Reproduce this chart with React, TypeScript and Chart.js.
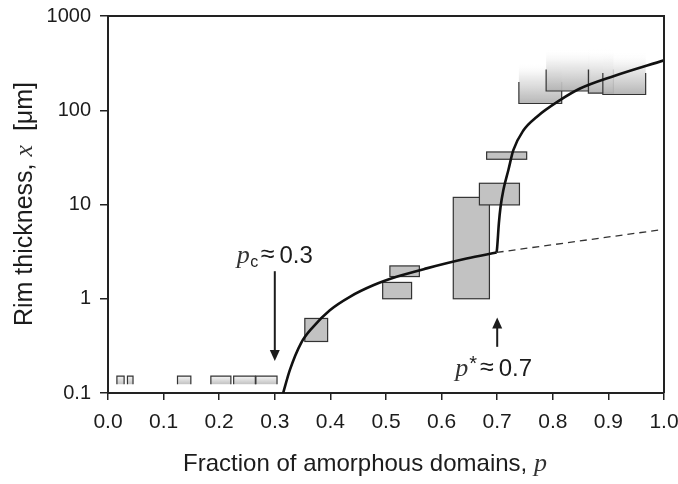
import { useEffect, useRef } from 'react';
import { Chart, registerables } from 'chart.js';

Chart.register(...registerables);

// ---- axis ticks ----
const xTickValues = [0, 0.1, 0.2, 0.3, 0.4, 0.5, 0.6, 0.7, 0.8, 0.9, 1.0];
const yTickValues = [0.1, 1, 10, 100, 1000];

// ---- low gradient boxes (p ranges), y range ----
const lowP0 = [0.016, 0.035, 0.125, 0.185, 0.226, 0.266];
const lowP1 = [0.029, 0.045, 0.149, 0.221, 0.265, 0.304];
const lowBottom = [0.124, 0.124, 0.124, 0.124, 0.124, 0.124];
const lowTop = [0.151, 0.151, 0.151, 0.151, 0.151, 0.151];

// ---- solid grey boxes ----
const solidP0 = [0.354, 0.507, 0.494, 0.621, 0.668, 0.681];
const solidP1 = [0.395, 0.560, 0.546, 0.686, 0.740, 0.753];
const solidBottom = [0.352, 1.72, 1.0, 1.0, 9.9, 30.2];
const solidTop = [0.618, 2.23, 1.49, 11.9, 16.8, 36.1];

// ---- upper fading boxes ----
const upP0 = [0.739, 0.788, 0.864, 0.890];
const upP1 = [0.816, 0.866, 0.909, 0.967];
const upBottom = [118, 160, 152, 147];
const upEdge = [200, 270, 270, 249];
const upFade = [325, 451, 451, 420];

// ---- model curve ----
const curveP = [0.315, 0.327, 0.347, 0.369, 0.399, 0.435, 0.477, 0.519, 0.573, 0.645, 0.699];
const curveX = [0.1, 0.175, 0.337, 0.504, 0.757, 1.05, 1.39, 1.71, 2.10, 2.67, 3.1];
const jumpP = [0.699, 0.700, 0.703, 0.706, 0.711, 0.720, 0.729, 0.747, 0.771, 0.813, 0.849, 0.909, 1.0];
const jumpX = [3.1, 3.55, 6.3, 9.4, 14.2, 23.1, 37.7, 61, 85, 128, 170, 230, 339];
const dashP = [0.699, 1.0];
const dashX = [3.1, 5.45];

// ---- annotation arrows ----
const pcArrowP = 0.3;
const pcArrowFrom = 1.96;
const pcArrowTo = 0.219;
const psArrowP = 0.7;
const psArrowFrom = 0.309;
const psArrowTo = 0.634;

const SANS = '"Liberation Sans", Arial, Helvetica, sans-serif';
const SERIF = '"Liberation Serif", "Times New Roman", serif';
const INK = '#1c1c1c';

function seg(ctx: CanvasRenderingContext2D, text: string, font: string, x: number, y: number) {
  ctx.font = font;
  ctx.fillText(text, x, y);
  return ctx.measureText(text).width;
}

function arrow(ctx: CanvasRenderingContext2D, x: number, y0: number, y1: number) {
  const dir = y1 > y0 ? 1 : -1;
  const head = 11;
  ctx.beginPath();
  ctx.moveTo(x, y0);
  ctx.lineTo(x, y1 - dir * head + dir * 1);
  ctx.lineWidth = 2;
  ctx.strokeStyle = INK;
  ctx.stroke();
  ctx.beginPath();
  ctx.moveTo(x, y1);
  ctx.lineTo(x - 5, y1 - dir * head);
  ctx.lineTo(x + 5, y1 - dir * head);
  ctx.closePath();
  ctx.fillStyle = INK;
  ctx.fill();
}

const boxesPlugin = {
  id: 'boxes',
  beforeDatasetsDraw(chart: any) {
    const { ctx, chartArea, scales } = chart;
    const xs = scales.x;
    const ys = scales.y;
    ctx.save();
    ctx.beginPath();
    ctx.rect(chartArea.left, chartArea.top, chartArea.right - chartArea.left, chartArea.bottom - chartArea.top);
    ctx.clip();

    // low gradient boxes
    for (let i = 0; i < lowP0.length; i++) {
      const x0 = xs.getPixelForValue(lowP0[i]);
      const x1 = xs.getPixelForValue(lowP1[i]);
      const yt = ys.getPixelForValue(lowTop[i]);
      const yb = ys.getPixelForValue(lowBottom[i]);
      const g = ctx.createLinearGradient(0, yt, 0, yb);
      g.addColorStop(0, '#f6f6f6');
      g.addColorStop(1, '#c2c2c2');
      ctx.fillStyle = g;
      ctx.fillRect(x0, yt, x1 - x0, yb - yt);
      ctx.beginPath();
      ctx.moveTo(x0, yb);
      ctx.lineTo(x0, yt);
      ctx.lineTo(x1, yt);
      ctx.lineTo(x1, yb);
      ctx.lineWidth = 1.2;
      ctx.strokeStyle = '#333';
      ctx.stroke();
    }

    // solid boxes
    for (let i = 0; i < solidP0.length; i++) {
      const x0 = xs.getPixelForValue(solidP0[i]);
      const x1 = xs.getPixelForValue(solidP1[i]);
      const yt = ys.getPixelForValue(solidTop[i]);
      const yb = ys.getPixelForValue(solidBottom[i]);
      ctx.fillStyle = '#c2c2c2';
      ctx.fillRect(x0, yt, x1 - x0, yb - yt);
      ctx.lineWidth = 1.2;
      ctx.strokeStyle = '#333';
      ctx.strokeRect(x0, yt, x1 - x0, yb - yt);
    }

    // upper fading boxes
    for (let i = 0; i < upP0.length; i++) {
      const x0 = xs.getPixelForValue(upP0[i]);
      const x1 = xs.getPixelForValue(upP1[i]);
      const yf = ys.getPixelForValue(upFade[i]);
      const ye = ys.getPixelForValue(upEdge[i]);
      const yb = ys.getPixelForValue(upBottom[i]);
      const g = ctx.createLinearGradient(0, yf, 0, yb);
      g.addColorStop(0, 'rgba(255,255,255,0)');
      g.addColorStop(0.35, 'rgba(235,235,235,0.85)');
      g.addColorStop(1, 'rgba(178,178,178,0.95)');
      ctx.fillStyle = g;
      ctx.fillRect(x0, yf, x1 - x0, yb - yf);
      ctx.beginPath();
      ctx.moveTo(x0, ye);
      ctx.lineTo(x0, yb);
      ctx.lineTo(x1, yb);
      ctx.lineTo(x1, ye);
      ctx.lineWidth = 1.2;
      ctx.strokeStyle = '#333';
      ctx.stroke();
    }
    ctx.restore();
  },
  afterDraw(chart: any) {
    const { ctx, chartArea, scales } = chart;
    const xs = scales.x;
    const ys = scales.y;
    ctx.save();
    // frame top & right
    ctx.strokeStyle = '#222';
    ctx.lineWidth = 2;
    ctx.beginPath();
    ctx.moveTo(chartArea.left, chartArea.top);
    ctx.lineTo(chartArea.right, chartArea.top);
    ctx.lineTo(chartArea.right, chartArea.bottom);
    ctx.stroke();

    // arrows
    const ax = xs.getPixelForValue(pcArrowP);
    arrow(ctx, ax, ys.getPixelForValue(pcArrowFrom), ys.getPixelForValue(pcArrowTo));
    const bx = xs.getPixelForValue(psArrowP);
    arrow(ctx, bx, ys.getPixelForValue(psArrowFrom), ys.getPixelForValue(psArrowTo));

    ctx.fillStyle = INK;
    ctx.textBaseline = 'alphabetic';
    ctx.textAlign = 'left';

    // p_c ≈ 0.3 label
    const pcBase = ys.getPixelForValue(pcArrowFrom) - 8;
    let x = ax - 38;
    ctx.fillStyle = '#333';
    x += seg(ctx, 'p', `italic 26px ${SERIF}`, x, pcBase);
    ctx.fillStyle = INK;
    x += seg(ctx, 'c', `16px ${SANS}`, x + 0.5, pcBase + 4) + 3;
    x += seg(ctx, '≈', `25px ${SANS}`, x, pcBase - 1) + 5;
    seg(ctx, '0.3', `24px ${SANS}`, x, pcBase);

    // p* ≈ 0.7 label
    const psBase = ys.getPixelForValue(psArrowFrom) + 29;
    x = bx - 42;
    ctx.fillStyle = '#333';
    x += seg(ctx, 'p', `italic 26px ${SERIF}`, x, psBase);
    ctx.fillStyle = INK;
    x += seg(ctx, '*', `20px ${SANS}`, x + 1, psBase - 6) + 4;
    x += seg(ctx, '≈', `25px ${SANS}`, x, psBase - 1) + 5;
    seg(ctx, '0.7', `24px ${SANS}`, x, psBase);

    // x axis title
    const xt = 'Fraction of amorphous domains, ';
    ctx.font = `24px ${SANS}`;
    const w1 = ctx.measureText(xt).width;
    ctx.font = `italic 26px ${SERIF}`;
    const w2 = ctx.measureText('p').width;
    let tx = 365 - (w1 + w2) / 2;
    ctx.fillStyle = INK;
    tx += seg(ctx, xt, `24px ${SANS}`, tx, 471);
    ctx.fillStyle = '#333';
    seg(ctx, 'p', `italic 26px ${SERIF}`, tx, 471);

    // y axis title (rotated)
    ctx.save();
    ctx.translate(32, 204);
    ctx.rotate(-Math.PI / 2);
    const a1 = 'Rim thickness, ';
    const a2 = 'x';
    const a3 = '  [μm]';
    ctx.font = `25px ${SANS}`;
    const m1 = ctx.measureText(a1).width;
    const m3 = ctx.measureText(a3).width;
    ctx.font = `italic 26px ${SERIF}`;
    const m2 = ctx.measureText(a2).width;
    let ty = -(m1 + m2 + m3) / 2;
    ctx.fillStyle = INK;
    ty += seg(ctx, a1, `25px ${SANS}`, ty, 0);
    ctx.fillStyle = '#333';
    ty += seg(ctx, a2, `italic 26px ${SERIF}`, ty, 0);
    ctx.fillStyle = INK;
    seg(ctx, a3, `25px ${SANS}`, ty, 0);
    ctx.restore();

    ctx.restore();
  },
};

export default function App() {
  const ref = useRef<HTMLCanvasElement | null>(null);
  useEffect(() => {
    if (!ref.current) return;
    const toPts = (ps: number[], vs: number[]) => ps.map((p, i) => ({ x: p, y: vs[i] }));
    const chart = new Chart(ref.current, {
      type: 'scatter',
      data: {
        datasets: [
          {
            data: toPts(dashP, dashX),
            showLine: true,
            pointRadius: 0,
            borderColor: '#333',
            borderWidth: 1.3,
            borderDash: [7, 5],
          },
          {
            data: toPts(curveP, curveX),
            showLine: true,
            pointRadius: 0,
            borderColor: '#111',
            borderWidth: 2.6,
            cubicInterpolationMode: 'monotone',
          },
          {
            data: toPts(jumpP, jumpX),
            showLine: true,
            pointRadius: 0,
            borderColor: '#111',
            borderWidth: 2.6,
            cubicInterpolationMode: 'monotone',
          },
        ],
      } as any,
      options: {
        animation: false,
        responsive: false,
        devicePixelRatio: 1,
        layout: { padding: { left: 0, top: 16, right: 14, bottom: 0 } },
        plugins: { legend: { display: false }, tooltip: { enabled: false } },
        scales: {
          x: {
            type: 'linear',
            min: 0,
            max: 1,
            afterBuildTicks: (s: any) => {
              s.ticks = xTickValues.map((v) => ({ value: v }));
            },
            afterFit: (s: any) => {
              s.height = 91;
              s.paddingLeft = 0;
              s.paddingRight = 0;
            },
            ticks: {
              callback: (v: any) => Number(v).toFixed(1),
              font: { family: SANS, size: 21 },
              color: INK,
              padding: 10,
              maxRotation: 0,
              autoSkip: false,
            },
            grid: { display: true, drawOnChartArea: false, drawTicks: true, tickLength: 7, color: '#222', lineWidth: 1.5 },
            border: { display: true, color: '#222', width: 2 },
          },
          y: {
            type: 'logarithmic',
            min: 0.1,
            max: 1000,
            afterBuildTicks: (s: any) => {
              s.ticks = yTickValues.map((v) => ({ value: v }));
            },
            afterFit: (s: any) => {
              s.width = 108;
              s.paddingTop = 0;
              s.paddingBottom = 0;
            },
            ticks: {
              callback: (v: any) => (Number(v) < 1 ? '0.1' : String(Number(v))),
              font: { family: SANS, size: 20 },
              color: INK,
              padding: 9,
              autoSkip: false,
            },
            grid: { display: true, drawOnChartArea: false, drawTicks: true, tickLength: 8, color: '#222', lineWidth: 1.5 },
            border: { display: true, color: '#222', width: 2 },
          },
        },
      } as any,
      plugins: [boxesPlugin],
    });
    return () => chart.destroy();
  }, []);
  return (
    <div style={{ position: 'fixed', left: 0, top: 0, width: 678, height: 484, background: '#fff' }}>
      <canvas ref={ref} width={678} height={484} style={{ width: 678, height: 484, display: 'block' }} />
    </div>
  );
}
